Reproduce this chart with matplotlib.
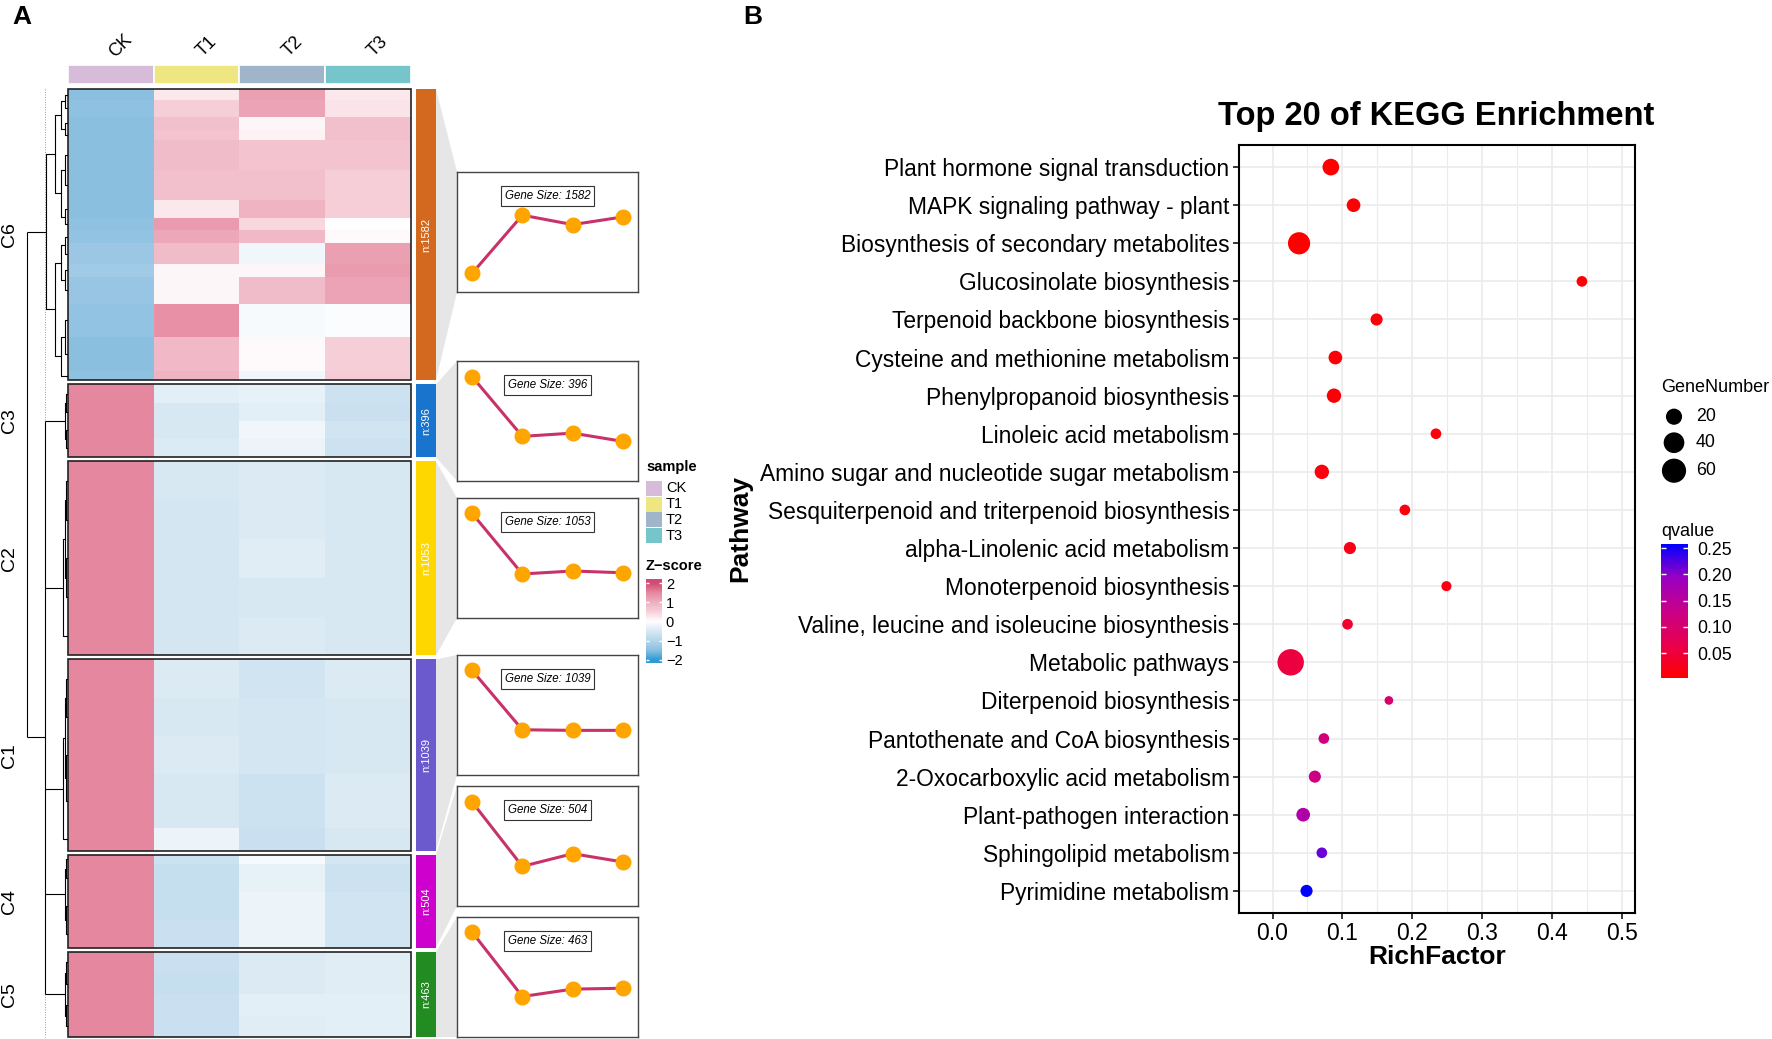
"""Figure: clustered Z-score heatmap with cluster profiles (A) and KEGG enrichment bubble plot (B)."""

import numpy as np
import matplotlib
matplotlib.use("Agg")
import matplotlib.pyplot as plt
from matplotlib.colors import LinearSegmentedColormap, Normalize
from matplotlib.patches import Polygon, Rectangle

plt.rcParams["font.family"] = ["Liberation Sans", "DejaVu Sans"]

# ---------------- panel A data ----------------
samples = ["CK", "T1", "T2", "T3"]
sample_colors = ["#D7BCDA", "#EDE681", "#A0B4CA", "#75C5CB"]

clusters = ["C6", "C3", "C2", "C1", "C4", "C5"]
cluster_sizes = [1582, 396, 1053, 1039, 504, 463]
cluster_colors = ["#D2691E", "#1874CD", "#FFD700", "#6A5ACD", "#CD00CD", "#228B22"]

# row bands per cluster: band edges (fraction of block) and z-scores [CK, T1, T2, T3]
c6_edges = [0, .038, .095, .141, .175, .278, .381, .444, .484, .530, .599, .645, .736, .851, .966, 1]
c6_z = [[-1.50, 0.25, 1.20, 0.25], [-1.45, 0.55, 1.15, 0.30], [-1.50, 0.75, 0.10, 0.75],
        [-1.50, 0.70, 0.15, 0.75], [-1.50, 0.80, 0.70, 0.70], [-1.50, 0.75, 0.75, 0.55],
        [-1.50, 0.25, 0.95, 0.55], [-1.45, 1.25, 0.45, 0.00], [-1.40, 1.10, 0.85, 0.05],
        [-1.30, 0.80, -0.20, 1.20], [-1.25, 0.10, 0.10, 1.25], [-1.35, 0.10, 0.80, 1.15],
        [-1.40, 1.40, -0.10, -0.05], [-1.50, 0.85, 0.05, 0.55], [-1.45, 0.95, -0.20, 0.60]]
c3_edges = [0, .25, .5, .75, 1]
c3_z = [[1.5, -0.35, -0.30, -0.65], [1.5, -0.50, -0.35, -0.70],
        [1.5, -0.50, -0.20, -0.60], [1.5, -0.45, -0.25, -0.65]]
c2_edges = [0, .2, .4, .6, .8, 1]
c2_z = [[1.5, -0.50, -0.45, -0.50], [1.5, -0.55, -0.45, -0.50], [1.5, -0.55, -0.40, -0.50],
        [1.5, -0.55, -0.50, -0.50], [1.5, -0.55, -0.45, -0.50]]
c1_edges = [0, .2, .4, .6, .88, 1]
c1_z = [[1.5, -0.45, -0.60, -0.45], [1.5, -0.50, -0.55, -0.50], [1.5, -0.45, -0.55, -0.50],
        [1.5, -0.50, -0.65, -0.45], [1.5, -0.25, -0.70, -0.50]]
c4_edges = [0, .1, .4, .7, 1]
c4_z = [[1.5, -0.65, -0.10, -0.55], [1.5, -0.75, -0.30, -0.65],
        [1.5, -0.75, -0.25, -0.60], [1.5, -0.70, -0.25, -0.60]]
c5_edges = [0, .25, .5, .75, 1]
c5_z = [[1.5, -0.70, -0.45, -0.40], [1.5, -0.75, -0.45, -0.40],
        [1.5, -0.70, -0.35, -0.35], [1.5, -0.70, -0.40, -0.35]]
band_edges = [c6_edges, c3_edges, c2_edges, c1_edges, c4_edges, c5_edges]
band_z = [c6_z, c3_z, c2_z, c1_z, c4_z, c5_z]

# mean z-score profile of each cluster (CK, T1, T2, T3)
cluster_profiles = [[-1.45, 0.52, 0.20, 0.46], [1.45, -0.57, -0.46, -0.74],
                    [1.46, -0.59, -0.49, -0.55], [1.46, -0.55, -0.57, -0.57],
                    [1.44, -0.74, -0.31, -0.59], [1.47, -0.71, -0.46, -0.43]]

# ---------------- panel B data ----------------
pathways = ["Plant hormone signal transduction", "MAPK signaling pathway - plant",
            "Biosynthesis of secondary metabolites", "Glucosinolate biosynthesis",
            "Terpenoid backbone biosynthesis", "Cysteine and methionine metabolism",
            "Phenylpropanoid biosynthesis", "Linoleic acid metabolism",
            "Amino sugar and nucleotide sugar metabolism",
            "Sesquiterpenoid and triterpenoid biosynthesis", "alpha-Linolenic acid metabolism",
            "Monoterpenoid biosynthesis", "Valine, leucine and isoleucine biosynthesis",
            "Metabolic pathways", "Diterpenoid biosynthesis", "Pantothenate and CoA biosynthesis",
            "2-Oxocarboxylic acid metabolism", "Plant-pathogen interaction",
            "Sphingolipid metabolism", "Pyrimidine metabolism"]
rich_factor = [0.0835, 0.116, 0.038, 0.443, 0.149, 0.090, 0.088, 0.234, 0.0706, 0.1895,
               0.1108, 0.249, 0.1074, 0.026, 0.1666, 0.0735, 0.0606, 0.0439, 0.0706, 0.0487]
gene_number = [22, 12, 48, 5, 8, 12, 14, 5, 14, 5, 8, 4, 5, 75, 2, 5, 8, 12, 5, 8]
qvalue = [0.004, 0.006, 0.003, 0.008, 0.012, 0.010, 0.008, 0.012, 0.015, 0.015,
          0.020, 0.020, 0.040, 0.055, 0.100, 0.115, 0.125, 0.165, 0.215, 0.258]
size_breaks = [20, 40, 60]
q_breaks = [0.05, 0.10, 0.15, 0.20, 0.25]

# ---------------- layout (pixels) ----------------
W, H = 1772, 1039
HM_LEFT, HM_RIGHT, HM_TOP, HM_BOT, GAP = 68, 411, 89, 1037, 4
ANNO_TOP, ANNO_BOT = 65, 84
BAR_LEFT, BAR_RIGHT = 416, 436
PANEL_LEFT, PANEL_RIGHT, PANEL_H = 457, 638, 120
panel_tops = [172, 361, 498, 655, 786, 917]


def px_rect(x0, y0, x1, y1):
    return [x0 / W, 1 - y1 / H, (x1 - x0) / W, (y1 - y0) / H]


z_cmap = LinearSegmentedColormap.from_list("z", [
    (0.0, "#2E9BD6"), (0.125, "#8BBFE0"), (0.25, "#B4D5EB"), (0.375, "#D8E8F3"),
    (0.5, "#FFFFFF"), (0.625, "#F7D2DB"), (0.75, "#EEAFBF"), (0.875, "#E6899F"),
    (1.0, "#D24A75")])
z_norm = Normalize(-2, 2)
q_cmap = LinearSegmentedColormap.from_list("q", ["#FF0000", "#E8004F", "#C90088", "#9A00C3", "#0000FF"])


def bubble_size(n):
    d = 5.2 + 2.45 * np.sqrt(np.asarray(n, dtype=float))   # diameter in px
    return (d * 0.72) ** 2


def draw_tree(ax, leaves, levels):
    nodes = [(y, HM_LEFT - 0.5) for y in leaves]
    for h in levels:
        if len(nodes) == 1:
            break
        merged = []
        for i in range(0, len(nodes) - 1, 2):
            (y1, x1), (y2, x2) = nodes[i], nodes[i + 1]
            ax.plot([x1, h, h, x2], [y1, y1, y2, y2], color="black", lw=0.8)
            merged.append(((y1 + y2) / 2, h))
        if len(nodes) % 2:
            merged.append(nodes[-1])
        nodes = merged
    return nodes[0]


fig = plt.figure(figsize=(W / 100, H / 100), dpi=100)
axA = fig.add_axes([0, 0, 1, 1])
axA.set_xlim(0, W)
axA.set_ylim(H, 0)
axA.axis("off")

fig.text(22 / W, 1 - 17 / H, "A", fontsize=19, fontweight="bold", ha="center", va="center")
fig.text(753 / W, 1 - 17 / H, "B", fontsize=19, fontweight="bold", ha="center", va="center")

# column annotation and names
col_w = (HM_RIGHT - HM_LEFT) / len(samples)
col_x = HM_LEFT + col_w * (np.arange(len(samples)) + 0.5)
axA.bar(col_x, ANNO_BOT - ANNO_TOP, bottom=ANNO_TOP, width=col_w, color=sample_colors,
        edgecolor="white", linewidth=1.2)
for x, s in zip(col_x, samples):
    axA.text(x + 10, 46, s, rotation=45, ha="center", va="center", fontsize=13)

# heatmap blocks
avail = HM_BOT - HM_TOP - GAP * (len(clusters) - 1)
heights = avail * np.array(cluster_sizes) / sum(cluster_sizes)
tops = HM_TOP + np.concatenate([[0], np.cumsum(heights[:-1] + GAP)])
xe = np.linspace(HM_LEFT, HM_RIGHT, len(samples) + 1)
roots = []
for i, name in enumerate(clusters):
    top, h = tops[i], heights[i]
    ye = top + np.array(band_edges[i]) * h
    axA.pcolormesh(xe, ye, np.array(band_z[i]), cmap=z_cmap, norm=z_norm, shading="flat")
    axA.add_patch(Rectangle((HM_LEFT, top), HM_RIGHT - HM_LEFT, h, fill=False,
                            ec="#222222", lw=1.2))
    axA.text(10, top + h / 2, name, rotation=90, ha="center", va="center", fontsize=14)
    leaves = (ye[:-1] + ye[1:]) / 2
    levels = [65, 61, 55, 45.7] if i == 0 else [66.5, 65.2, 63.3]
    roots.append(draw_tree(axA, leaves, levels))

# top-level dendrogram
axA.vlines(45.5, HM_TOP, HM_BOT, colors="#777777", lw=0.6, linestyles=(0, (1, 2)))
rest = roots[1:]
rest_y = np.mean([r[0] for r in rest])
axA.vlines(45.2, min(r[0] for r in rest), max(r[0] for r in rest), colors="black", lw=0.8)
axA.hlines([r[0] for r in rest], 45.2, [r[1] for r in rest], colors="black", lw=0.8)
axA.vlines(26.7, roots[0][0], rest_y, colors="black", lw=0.8)
axA.hlines([roots[0][0], rest_y], 26.7, [45.7, 45.2], colors="black", lw=0.8)

# cluster bars, links and profile panels
axA.bar((BAR_LEFT + BAR_RIGHT) / 2, heights, bottom=tops, width=BAR_RIGHT - BAR_LEFT,
        color=cluster_colors)
for i, n in enumerate(cluster_sizes):
    top, h = tops[i], heights[i]
    axA.text((BAR_LEFT + BAR_RIGHT) / 2, top + h / 2, f"n:{n}", rotation=90, color="white",
             ha="center", va="center", fontsize=8)
    ptop = panel_tops[i]
    axA.add_patch(Polygon([(BAR_RIGHT, top), (PANEL_LEFT, ptop), (PANEL_LEFT, ptop + PANEL_H),
                           (BAR_RIGHT, top + h)], closed=True, fc="#E6E6E6", ec="none"))

    ax = fig.add_axes(px_rect(PANEL_LEFT, ptop, PANEL_RIGHT, ptop + PANEL_H))
    ax.plot(np.arange(1, 5), cluster_profiles[i], color="#C8326A", lw=2.2, zorder=2)
    ax.plot(np.arange(1, 5), cluster_profiles[i], "o", color="#FFA500", ms=10.5, zorder=3)
    ax.set_xlim(0.7, 4.3)
    ax.set_ylim(-2.08, 1.98)
    ax.set_xticks([])
    ax.set_yticks([])
    for sp in ax.spines.values():
        sp.set_color("#444444")
        sp.set_linewidth(1.0)
    ax.text(0.5, 0.8, f"Gene Size: {n}", transform=ax.transAxes, ha="center", va="center",
            fontsize=8.3, style="italic",
            bbox=dict(boxstyle="square,pad=0.35", fc="white", ec="#333333", lw=0.8))

# sample legend
axA.text(646, 467, "sample", fontsize=10.5, fontweight="bold", va="center")
sw_y = 480.7 + 15.8 * np.arange(len(samples))
axA.bar(653.8, 15, bottom=sw_y, width=15.7, color=sample_colors)
for y, s in zip(sw_y, samples):
    axA.text(666, y + 7.5, s, fontsize=10.5, va="center")
axA.text(646, 566, "Z\u2212score", fontsize=10.5, fontweight="bold", va="center")
cz = fig.add_axes(px_rect(646, 579.3, 661.7, 662.7))
grad = np.linspace(-2.15, 2.2, 256).reshape(-1, 1)
cz.imshow(grad, extent=[0, 1, -2.15, 2.2], origin="lower", aspect="auto", cmap=z_cmap, norm=z_norm)
cz.set_xlim(0, 1)
cz.set_ylim(-2.15, 2.2)
z_ticks = [-2, -1, 0, 1, 2]
cz.hlines(z_ticks, 0, 0.2, colors="white", lw=1)
cz.hlines(z_ticks, 0.8, 1, colors="white", lw=1)
cz.yaxis.tick_right()
cz.set_yticks(z_ticks)
cz.set_yticklabels(["\u22122", "\u22121", "0", "1", "2"])
cz.set_xticks([])
cz.tick_params(length=0, pad=3, labelsize=10.5)
for sp in cz.spines.values():
    sp.set_visible(False)

# ---------------- panel B ----------------
axB = fig.add_axes(px_rect(1239, 145, 1635, 913))
yy = np.arange(len(pathways), 0, -1)
q_norm = Normalize(0.0025, 0.258)
axB.scatter(rich_factor, yy, s=bubble_size(gene_number), c=qvalue, cmap=q_cmap, norm=q_norm,
            edgecolors="none", zorder=3)
axB.set_xlim(-0.048, 0.519)
axB.set_ylim(0.42, len(pathways) + 0.58)
axB.set_yticks(yy)
axB.set_yticklabels(pathways, fontsize=16.4)
axB.set_xticks([0.0, 0.1, 0.2, 0.3, 0.4, 0.5])
axB.set_xticklabels(["0.0", "0.1", "0.2", "0.3", "0.4", "0.5"], fontsize=16.5)
axB.set_xticks(np.arange(0.05, 0.5, 0.1), minor=True)
axB.tick_params(which="major", length=4.3, width=1.1, pad=2.5, color="black")
axB.tick_params(which="minor", length=0)
axB.grid(which="major", color="#EBEBEB", lw=1.2)
axB.grid(which="minor", axis="x", color="#EBEBEB", lw=0.8)
axB.set_axisbelow(True)
for sp in axB.spines.values():
    sp.set_linewidth(1.5)
    sp.set_color("black")

fig.text(1436 / W, 1 - 117 / H, "Top 20 of KEGG Enrichment", fontsize=23.5, fontweight="bold",
         ha="center", va="center")
fig.text(740 / W, 1 - 528 / H, "Pathway", fontsize=19, fontweight="bold", rotation=90,
         ha="center", va="center")
fig.text(1437 / W, 1 - 957 / H, "RichFactor", fontsize=19, fontweight="bold",
         ha="center", va="center")

# GeneNumber legend
axA.text(1661, 387, "GeneNumber", fontsize=13, va="center")
leg_y = [416.7, 442.7, 470.7]
axA.scatter([1674] * len(size_breaks), leg_y, s=bubble_size(size_breaks), color="black",
            edgecolors="none")
for y, b in zip(leg_y, size_breaks):
    axA.text(1696, y, str(b), fontsize=12.8, va="center")

# qvalue colorbar
axA.text(1661, 531, "qvalue", fontsize=13, va="center")
cq = fig.add_axes(px_rect(1661, 544, 1688, 678))
qgrad = np.linspace(0.0025, 0.258, 256).reshape(-1, 1)
cq.imshow(qgrad, extent=[0, 1, 0.0025, 0.258], origin="lower", aspect="auto", cmap=q_cmap,
          norm=q_norm)
cq.set_xlim(0, 1)
cq.set_ylim(0.0025, 0.258)
cq.hlines(q_breaks, 0, 0.2, colors="white", lw=1)
cq.hlines(q_breaks, 0.8, 1, colors="white", lw=1)
cq.yaxis.tick_right()
cq.set_yticks(q_breaks)
cq.set_yticklabels([f"{q:.2f}" for q in q_breaks])
cq.set_xticks([])
cq.tick_params(length=0, pad=6.5, labelsize=12.8)
for sp in cq.spines.values():
    sp.set_visible(False)

fig.savefig("out.png", dpi=100)
